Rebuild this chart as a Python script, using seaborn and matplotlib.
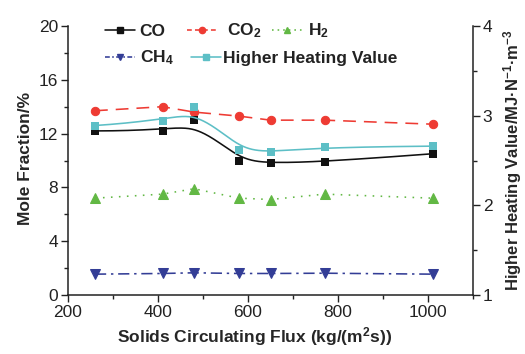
import numpy as np
import pandas as pd
import matplotlib
matplotlib.use("Agg")
import matplotlib.pyplot as plt
from matplotlib.lines import Line2D
from matplotlib.ticker import MultipleLocator
import seaborn as sns

# ---- data ----
flux = [260, 410, 480, 580, 650, 770, 1010]
co = [12.2, 12.2, 13.0, 10.0, 9.8, 9.9, 10.5]
co2 = [13.7, 14.0, 13.6, 13.3, 13.0, 13.0, 12.7]
h2 = [7.2, 7.5, 7.9, 7.2, 7.1, 7.5, 7.2]
ch4 = [1.55, 1.6, 1.65, 1.6, 1.6, 1.62, 1.55]
hhv = [2.89, 2.94, 3.10, 2.62, 2.59, 2.65, 2.66]
x_ticks = [200, 400, 600, 800, 1000]
y_ticks = [0, 4, 8, 12, 16, 20]
y2_ticks = [1, 2, 3, 4]

sns.set_style("ticks")
plt.rcParams["font.family"] = ["Liberation Sans", "DejaVu Sans"]
plt.rcParams["mathtext.fontset"] = "custom"
plt.rcParams["mathtext.rm"] = "Liberation Sans"
plt.rcParams["mathtext.bf"] = "Liberation Sans:bold"
plt.rcParams["mathtext.default"] = "regular"

C_CO = "#111111"
C_CO2 = "#ee3b33"
C_H2 = "#62b844"
C_CH4 = "#333d96"
C_HHV = "#5dbfc6"


def bspline(xs, ys, k=3, n=300):
    """Clamped cubic B-spline (Origin-style B-spline connection)."""
    P = np.column_stack([xs, ys]).astype(float)
    m = len(P)
    knots = np.concatenate([np.zeros(k), np.linspace(0, 1, m - k + 1), np.ones(k)])
    t = np.linspace(0, 1, n)
    t[-1] = 1 - 1e-12
    N = np.zeros((n, len(knots) - 1))
    for i in range(len(knots) - 1):
        N[:, i] = (t >= knots[i]) & (t < knots[i + 1])
    for p in range(1, k + 1):
        Nn = np.zeros((n, len(knots) - 1 - p))
        for i in range(len(knots) - 1 - p):
            d1 = knots[i + p] - knots[i]
            d2 = knots[i + p + 1] - knots[i + 1]
            a = (t - knots[i]) / d1 * N[:, i] if d1 > 0 else 0
            b = (knots[i + p + 1] - t) / d2 * N[:, i + 1] if d2 > 0 else 0
            Nn[:, i] = a + b
        N = Nn
    C = N @ P
    return C[:, 0], C[:, 1]


df = pd.DataFrame({"flux": flux, "CO": co, "CO2": co2, "H2": h2, "CH4": ch4, "HHV": hhv})

fig = plt.figure(figsize=(5.25, 3.54), dpi=100)
ax = fig.add_axes([68 / 525, 1 - 295 / 354, (473 - 68) / 525, (295 - 26) / 354])
ax2 = ax.twinx()

lw = 1.15
ms = 5

# CO: B-spline curve + markers
cx, cy = bspline(flux, co)
sns.lineplot(x=cx, y=cy, ax=ax, color=C_CO, lw=lw, sort=False, estimator=None)
sns.scatterplot(data=df, x="flux", y="CO", ax=ax, color=C_CO, marker="s", s=30,
                edgecolor=C_CO, linewidth=0, zorder=5)

# CO2 dashed
sns.lineplot(data=df, x="flux", y="CO2", ax=ax, color=C_CO2, lw=lw,
             linestyle=(0, (8, 5)), marker="o", markersize=ms + 1,
             markeredgecolor=C_CO2, estimator=None)
# H2 dotted
sns.lineplot(data=df, x="flux", y="H2", ax=ax, color=C_H2, lw=lw,
             linestyle=(0, (1, 4)), marker="^", markersize=ms + 1.5,
             markeredgecolor=C_H2, estimator=None)
# CH4 dash-dot
sns.lineplot(data=df, x="flux", y="CH4", ax=ax, color=C_CH4, lw=lw,
             linestyle=(0, (7, 3, 1.5, 3)), marker="v", markersize=ms + 1.5,
             markeredgecolor=C_CH4, estimator=None)

# HHV on right axis: B-spline + markers
hx, hy = bspline(flux, hhv)
sns.lineplot(x=hx, y=hy, ax=ax2, color=C_HHV, lw=lw, sort=False, estimator=None)
sns.scatterplot(data=df, x="flux", y="HHV", ax=ax2, color=C_HHV, marker="s", s=36,
                edgecolor=C_HHV, linewidth=0, zorder=5)

ax.set_xlim(200, 1100)
ax.set_ylim(0, 20)
ax2.set_ylim(1, 4)
ax.set_xticks(x_ticks)
ax.set_yticks(y_ticks)
ax2.set_yticks(y2_ticks)
ax.xaxis.set_minor_locator(MultipleLocator(100))
ax.yaxis.set_minor_locator(MultipleLocator(2))
ax2.yaxis.set_minor_locator(MultipleLocator(0.5))

for a in (ax, ax2):
    a.tick_params(which="major", direction="out", length=5, width=1, labelsize=12.5,
                  color="#222222", labelcolor="#222222", pad=2)
    a.tick_params(which="minor", direction="out", length=3, width=1, color="#222222")
    for s in a.spines.values():
        s.set_linewidth(1.1)
        s.set_color("#222222")
    a.spines["top"].set_visible(False)
ax2.spines["left"].set_visible(False)
ax2.spines["bottom"].set_visible(False)
ax.spines["right"].set_visible(False)

xl = ax.set_xlabel("Solids Circulating Flux (kg/(m$^2$s))", fontsize=12.5, fontweight="bold")
yl = ax.set_ylabel("Mole Fraction/%", fontsize=12.5, fontweight="bold")
y2l = ax2.set_ylabel("Higher Heating Value/MJ·N$^{-1}$·m$^{-3}$", fontsize=12, fontweight="bold")
for t in (xl, yl, y2l):
    t.set_verticalalignment("center")
    t.set_horizontalalignment("center")
ax.xaxis.set_label_coords((255 - 68) / 405, (295 - 337) / 269)
ax.yaxis.set_label_coords((26 - 68) / 405, (295 - 158) / 269)
ax2.yaxis.set_label_coords((513 - 68) / 405, (295 - 160) / 269)

# legend entries placed individually to match the reference layout
entries = [
    ("CO", C_CO, "-", "s", 105, 31, 0.3),
    ("CO$_2$", C_CO2, (0, (3, 2)), "o", 187, 31, 0.6),
    ("H$_2$", C_H2, (0, (1, 2.5)), "^", 272, 31, 0.35),
    ("CH$_4$", C_CH4, (0, (3, 1.5, 1, 1.5)), "v", 105, 58, 0.3),
    ("Higher Heating Value", C_HHV, "-", "s", 191, 58, 0.15),
]
for lab, col, ls, mk, px, py, pad in entries:
    h = Line2D([], [], color=col, lw=lw, linestyle=ls, marker=mk, markersize=4.5,
               markeredgecolor=col)
    leg = fig.legend(handles=[h], labels=[lab], loc="center left",
                     bbox_to_anchor=(px / 525, 1 - py / 354), frameon=False,
                     borderpad=0, borderaxespad=0, handlelength=1.7,
                     handletextpad=pad,
                     prop={"size": 12.5, "weight": "bold"})
    for t in leg.get_texts():
        t.set_color("#222222")

fig.savefig("out.png", dpi=100)
